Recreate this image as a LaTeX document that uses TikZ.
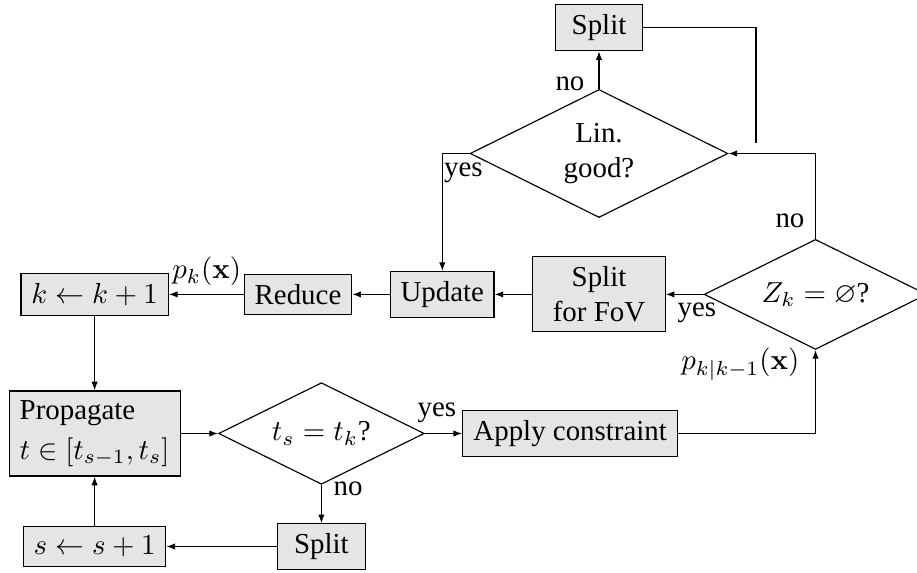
\documentclass[tikz,border=0pt]{standalone}
\usepackage{amssymb}
\usepackage[no-math]{fontspec}
\setmainfont{LiberationSerif}[
  Extension=.ttf,
  UprightFont=*-Regular,
  BoldFont=*-Bold,
  ItalicFont=*-Italic,
  BoldItalicFont=*-BoldItalic]
\usetikzlibrary{shapes.geometric,arrows.meta}

% one drawing unit
\newcommand{\pu}{0.346pt}

\tikzset{
  box/.style 2 args={draw, fill=gray!20, align=center,
    minimum width=#1*\pu, minimum height=#2*\pu},
  dia/.style 2 args={draw, diamond, aspect=2, inner sep=0pt, align=center,
    minimum width=#1*\pu, minimum height=#2*\pu},
  flow/.style={-{Latex[length=3pt,width=2.2pt]}},
  lbl/.style={inner sep=0pt},
}

\begin{document}
\begin{tikzpicture}[x=\pu, y=-\pu]
\useasboundingbox (0,0) rectangle (917,573);
\clip (0,0) rectangle (917,573);

% upper loop
\node[box={87.3}{46}] (splitA) at (599,27.7) {Split};
\node[dia={257.7}{128}] (lin) at (599,153.5) {Lin.\\good?};
\node[dia={222.6}{110}] (zk) at (815.5,294.4) {$Z_k = \varnothing$?};
\node[box={132.3}{75}] (fov) at (599,294.4) {Split\\for FoV};
\node[box={103.3}{45.6}] (update) at (442.3,294.4) {Update};
\node[box={107.4}{39.3}] (reduce) at (298,294.4) {Reduce};
\node[box={147.3}{42.4}] (kinc) at (94.6,294.4) {$k \leftarrow k + 1$};

% propagation loop
\node[box={171}{82}, align=left, anchor=center] (prop) at (94.6,433.5)
  {Propagate\\[1.7pt]$t \in [t_{s-1}, t_s]$};
\node[dia={205.7}{101.6}] (tdia) at (321.4,433.5) {$t_s = t_k$?};
\node[box={215}{45}] (apply) at (570.2,433.5) {Apply constraint};
\node[box={88}{45.3}] (splitB) at (321.4,546.5) {Split};
\node[box={142.4}{40.7}] (sinc) at (94.6,546.5) {$s \leftarrow s + 1$};

\coordinate (joinend) at (756,143.3);

% connectors
\draw[flow] (lin.north) -- (splitA.south);
\draw (splitA.east) -| (joinend);
\draw[flow] (zk.north) |- (lin.east);
\draw[flow] (lin.west) -| (update.north);
\draw[flow] (zk.west) -- (fov.east);
\draw[flow] (fov.west) -- (update.east);
\draw[flow] (update.west) -- (reduce.east);
\draw[flow] (reduce.west) -- (kinc.east);
\draw[flow] (kinc.south) -- (prop.north);
\draw[flow] (prop.east) -- (tdia.west);
\draw[flow] (tdia.east) -- (apply.west);
\draw[flow] (tdia.south) -- (splitB.north);
\draw[flow] (splitB.west) -- (sinc.east);
\draw[flow] (sinc.north) -- (prop.south);
\draw[flow] (apply.east) -| (zk.south);

% branch labels
\node[lbl, anchor=base east] (linNo) at (585,90.7) {no};
\node[lbl, anchor=base west] (linYes) at (443.5,176.5) {yes};
\node[lbl, anchor=base east] (zkNo) at (805,227.3) {no};
\node[lbl, anchor=base west] (zkYes) at (677,316.5) {yes};
\node[lbl, anchor=base west] (tYes) at (417,416.7) {yes};
\node[lbl, anchor=base west] (tNo) at (333,496) {no};
\node[lbl, anchor=base west] (pk) at (171.7,279) {$p_k(\mathbf{x})$};
\node[lbl, anchor=base east] (pkk) at (800,370) {$p_{k|k-1}(\mathbf{x})$};
\end{tikzpicture}
\end{document}
